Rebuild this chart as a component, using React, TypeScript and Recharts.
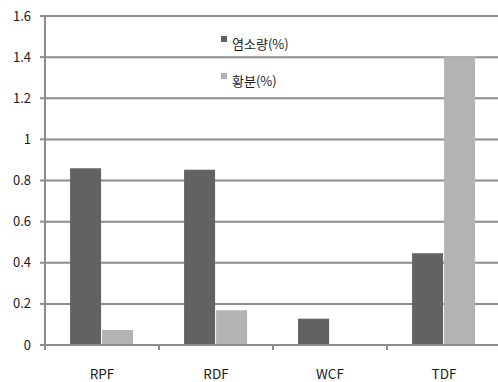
import React from "react";
import { BarChart, Bar, XAxis, YAxis, CartesianGrid, Legend } from "recharts";

// fuel types and their measured values
const categories = ["RPF", "RDF", "WCF", "TDF"];
const chlorine = [0.86, 0.852, 0.128, 0.446]; // 염소량(%)
const sulfur = [0.073, 0.169, 0, 1.403]; // 황분(%)
const yTicks = [0, 0.2, 0.4, 0.6, 0.8, 1, 1.2, 1.4, 1.6];

const data = categories.map((name, i) => ({
  name,
  chlorine: chlorine[i],
  sulfur: sulfur[i],
}));

const W = 501;
const H = 382;
const Y_AXIS_W = 45;
const BAND = (W - Y_AXIS_W) / categories.length;

const GRID = "#8c8c8c";
const DARK = "#626262";
const LIGHT = "#b3b3b3";
const FONT = "'Noto Sans CJK KR', 'Noto Sans', sans-serif";

// Excel-style category axis: tick marks sit between categories, label below
const CategoryTick = (props: any) => {
  const { x, y, payload } = props;
  const edge = x - BAND / 2;
  return (
    <g>
      <line x1={edge} x2={edge} y1={y} y2={y + 5} stroke={GRID} strokeWidth={2} />
      <text x={x} y={y + 34} textAnchor="middle" fontSize={13.5} fontFamily={FONT} fill="#1a1a1a">
        {payload.value}
      </text>
    </g>
  );
};

const LegendBox = (props: any) => {
  const { payload = [] } = props;
  return (
    <div style={{ fontFamily: FONT, fontSize: 13, color: "#1a1a1a" }}>
      {payload.map((item: any) => (
        <div key={item.value} style={{ display: "flex", height: 20, lineHeight: "20px", marginBottom: 17 }}>
          <span style={{ width: 6, height: 6, marginTop: 2, marginRight: 5, background: item.color }} />
          <span>{item.value}</span>
        </div>
      ))}
    </div>
  );
};

export default function App() {
  return (
    <div style={{ position: "absolute", left: 0, top: 0, width: 498, height: H, overflow: "hidden", background: "#fff" }}>
      <BarChart
        width={W}
        height={H}
        data={data}
        margin={{ top: 16, right: 0, left: 0, bottom: 0 }}
        barCategoryGap="22%"
        barGap={1}
      >
        <CartesianGrid vertical={false} stroke={GRID} strokeWidth={2} />
        <XAxis
          dataKey="name"
          height={37}
          axisLine={{ stroke: GRID, strokeWidth: 2 }}
          tickLine={false}
          tickSize={0}
          tickMargin={0}
          tick={<CategoryTick />}
          interval={0}
        />
        <YAxis
          width={Y_AXIS_W}
          domain={[0, 1.6]}
          ticks={yTicks}
          interval={0}
          axisLine={{ stroke: GRID, strokeWidth: 2 }}
          tickLine={{ stroke: GRID, strokeWidth: 2 }}
          tickSize={5}
          tickMargin={9}
          tickFormatter={(v: number) => String(v)}
          tick={{ fontSize: 13, fontFamily: FONT, fill: "#1a1a1a" }}
        />
        <Legend
          layout="vertical"
          align="center"
          verticalAlign="middle"
          content={<LegendBox />}
          wrapperStyle={{ left: 221, top: 34, width: "auto" }}
        />
        <Bar dataKey="chlorine" name="염소량(%)" fill={DARK} isAnimationActive={false} />
        <Bar dataKey="sulfur" name="황분(%)" fill={LIGHT} isAnimationActive={false} />
      </BarChart>
    </div>
  );
}
